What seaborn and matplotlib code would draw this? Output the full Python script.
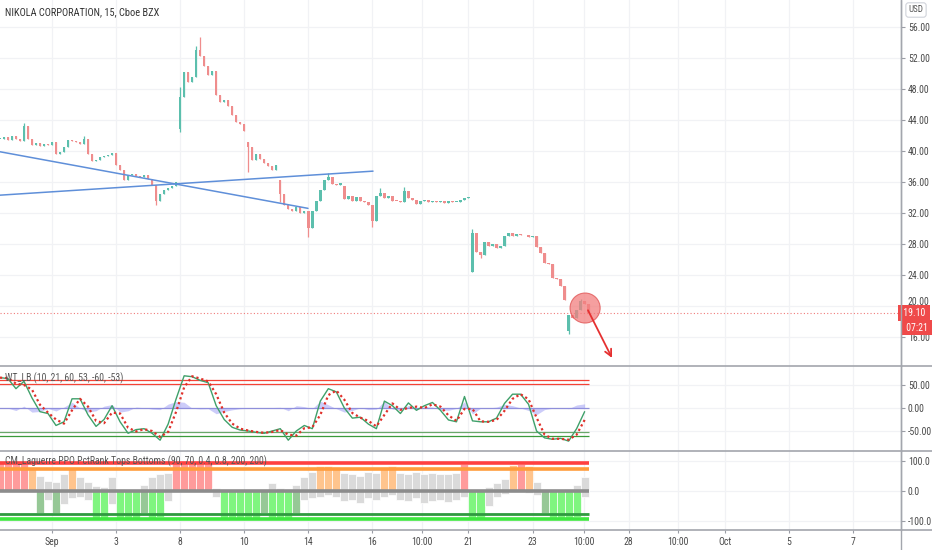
import numpy as np
import pandas as pd
import matplotlib
matplotlib.use("Agg")
import matplotlib.pyplot as plt
import matplotlib.transforms as mtransforms
from matplotlib.lines import Line2D
from matplotlib.patches import Ellipse
from matplotlib import font_manager
import seaborn as sns

# ---------------- data ----------------
title = "NIKOLA CORPORATION, 15, Cboe BZX"
wt_label = "WT_LB (10, 21, 60, 53, -60, -53)"
lb_label = "CM_Laguerre PPO PctRank Tops Bottoms (90, 70, 0.4, 0.8, 200, 200)"

date_tick_pos = [0, 2, 4, 6, 8, 10, 11.55, 13, 15, 16.6, 18, 19.55, 21, 23, 25]
date_tick_lbl = ["Sep", "3", "8", "10", "14", "16", "10:00", "21", "23", "10:00",
                 "28", "10:00", "Oct", "5", "7"]
price_ticks = [16, 20, 24, 28, 32, 36, 40, 44, 48, 52, 56]
wt_ticks = [50, 0, -50]
lb_ticks = [100, 0, -100]

candle_start = -1.625          # day index of first candle
candle_step = 0.125            # day fraction per candle
closes = [41.6, 41.8, 41.4, 41.9, 41.6, 41.3, 43.2, 41.5, 40.8, 41.0,
          40.7, 40.9, 40.8, 41.1, 39.6, 39.9, 40.5, 41.4, 41.3, 41.1,
          40.9, 41.6, 39.6, 38.7, 38.8, 39.2, 39.3, 39.5, 39.7, 38.2,
          37.5, 36.2, 36.9, 37.0, 36.8, 36.7, 36.9, 36.4, 35.6, 33.6,
          34.5, 35.0, 35.2, 35.5, 36.0, 47.0, 50.2, 48.9, 49.5, 53.0,
          52.2, 51.0, 49.8, 50.3, 47.2, 46.3, 46.6, 45.8, 44.6, 43.8,
          43.5, 42.6, 40.5, 38.8, 39.6, 39.0, 38.5, 38.0, 37.6, 38.2,
          34.5, 33.0, 32.5, 32.2, 32.8, 32.0, 32.3, 30.0, 32.2, 33.6,
          35.0, 36.2, 36.6, 35.8, 35.6, 35.9, 33.8, 34.2, 33.6, 34.0,
          33.5, 33.4, 33.0, 31.0, 34.2, 34.6, 33.9, 34.2, 33.6, 33.5,
          33.4, 34.8, 33.9, 33.7, 33.2, 33.6, 33.7, 33.4, 33.6, 33.4,
          33.5, 33.3, 33.6, 33.4, 33.4, 33.7, 33.9, 34.1, 29.4, 27.0,
          26.6, 28.3, 27.8, 28.0, 27.5, 27.8, 29.0, 29.4, 29.0, 29.3,
          29.1, 29.2, 28.9, 29.0, 27.6, 26.9, 25.6, 25.4, 23.6, 23.5,
          22.6, 20.8, 18.9, 18.5, 19.5, 20.6, 20.2, 19.1]
open_overrides = {0: 41.5, 45: 42.8, 62: 41.2, 70: 36.3, 86: 35.5, 118: 24.4, 142: 16.8}
high_overrides = {6: 43.6, 21: 41.9, 45: 48.3, 49: 53.6, 50: 54.7, 82: 37.2,
                  95: 35.2, 101: 35.3, 118: 29.9, 145: 20.9}
low_overrides = {39: 33.0, 45: 42.5, 62: 37.3, 70: 33.4, 77: 28.9, 93: 30.2,
                 120: 26.2, 142: 16.4}
last_price = 19.10
last_price_txt = "19.10"
countdown_txt = "07:21"

trend_a_x = [-1.623, 7.99]
trend_a_y = [39.9, 32.6]
trend_b_x = [-1.623, 10.02]
trend_b_y = [34.3, 37.4]
circle_center = (16.64, 19.74)
circle_size = (0.94, 3.87)
arrow_from = (16.73, 19.45)
arrow_to = (17.48, 13.3)

osc_start = -1.625
osc_step = 0.25
wt1 = [66, 64, 42, 58, 22, -8, -12, -38, -30, 20,
       20, -15, -40, -25, 5, -30, -55, -47, -45, -55,
       -70, -35, 20, 70, 68, 60, 55, 5, -25, -42,
       -48, -50, -53, -55, -50, -45, -70, -50, -38, -45,
       15, 42, 35, 0, -22, -20, -35, -45, 15, 5,
       -12, 11, -5, 5, 12, -5, -26, -30, 25, -28,
       -30, -30, -22, 10, 30, 30, 8, -50, -65, -68,
       -66, -72, -45, -8]
wt2 = [66, 65, 53, 50, 40, 7, -10, -25, -34, -5,
       20, 3, -28, -33, -10, -12, -43, -51, -46, -50,
       -63, -52, -8, 45, 69, 64, 58, 30, -10, -34,
       -45, -49, -52, -54, -52, -48, -58, -60, -44, -42,
       -15, 28, 38, 18, -11, -21, -28, -40, -15, 10,
       -4, 0, 3, 0, 8, 3, -16, -28, -2, -2,
       -29, -30, -26, -6, 20, 30, 19, -21, -58, -67,
       -67, -69, -58, -26]
wt_levels_ob = [60, 53]
wt_levels_os = [-60, -53]

lb_top = [98, 98, 97, 96, 78, 50, 32, 30, 55, 78,
          45, 30, 15, 12, 48, 8, 2, 0, 20, 45,
          55, 60, 96, 99, 99, 97, 95, 10, 0, 0,
          0, 0, 0, 5, 25, 10, 5, 20, 45, 62,
          82, 84, 80, 60, 55, 50, 62, 60, 80, 82,
          60, 58, 62, 55, 60, 58, 55, 60, 90, 0,
          0, 12, 28, 40, 88, 90, 82, 30, 0, 0,
          0, 5, 20, 45]
lb_bot = [0, 0, 0, 0, -5, -73, -30, -72, -45, -25,
          -20, -30, -90, -90, -45, -90, -92, -90, -74, -90,
          -88, -35, -5, 0, 0, 0, 0, -20, -90, -92,
          -90, -91, -90, -75, -90, -91, -90, -74, -30, -25,
          -20, -15, -20, -35, -30, -40, -25, -30, -20, -15,
          -30, -35, -25, -40, -35, -30, -38, -30, -20, -90,
          -92, -50, -20, -10, -5, -5, -8, -15, -74, -90,
          -91, -90, -88, -20]
lb_levels = [93, 73, 0, -77, -93]

# ---------------- style ----------------
sns.set_theme(style="white")
avail = {f.name for f in font_manager.fontManager.ttflist}
fams = [f for f in ["Liberation Sans Narrow", "Roboto Condensed", "Liberation Sans", "DejaVu Sans"] if f in avail]
plt.rcParams["font.family"] = fams or ["DejaVu Sans"]

W, H = 932, 550
AXR = 901
TXT = "#4a4a4a"
GRID = "#f1f2f5"
SEP = "#a3a6ad"

fig = plt.figure(figsize=(W / 100, H / 100), dpi=100)
fig.patch.set_facecolor("white")


def rect(top, bottom):
    return [0, (H - bottom) / H, AXR / W, (bottom - top) / H]


ax = fig.add_axes(rect(0, 366))
ax_wt = fig.add_axes(rect(366, 451), sharex=ax)
ax_lb = fig.add_axes(rect(451, 530), sharex=ax)

for a in (ax, ax_wt, ax_lb):
    a.set_facecolor("white")
    for s in ("top", "left", "bottom"):
        a.spines[s].set_visible(False)
    a.spines["right"].set_color(SEP)
    a.spines["right"].set_linewidth(1.0)
    a.yaxis.tick_right()
    a.tick_params(axis="y", which="both", right=True, length=3, width=0.8,
                  color="#9a9da5", labelsize=7, labelcolor=TXT, pad=2)
    a.set_xticks(date_tick_pos)
    for xp in date_tick_pos:
        a.axvline(xp, color=GRID, lw=0.9, zorder=0)
    a.set_xlabel("")
    a.set_ylabel("")

ax.set_xlim(-1.623, 26.50)

# ---------- main price panel ----------
ax.set_ylim(12.26, 59.48)
ax.set_yticks(price_ticks)
ax.set_yticklabels([f"{v:.2f}" for v in price_ticks])
for v in price_ticks:
    ax.axhline(v, color=GRID, lw=0.9, zorder=0)
ax.tick_params(axis="x", bottom=False, labelbottom=False)
# the tick label right above the last-price tag is nudged up so the tag does not hide it
for lbl, v in zip(ax.get_yticklabels(), price_ticks):
    if abs(v - last_price) < 1.5:
        lbl.set_transform(lbl.get_transform() +
                          mtransforms.ScaledTranslation(0, 5 / 100, fig.dpi_scale_trans))

n = len(closes)
tc = candle_start + np.arange(n) * candle_step
c = np.array(closes, dtype=float)
o = np.concatenate([[c[0]], c[:-1]])
for k, v in open_overrides.items():
    o[k] = v
hi = np.maximum(o, c)
lo = np.minimum(o, c)
for k, v in high_overrides.items():
    hi[k] = v
for k, v in low_overrides.items():
    lo[k] = v
up = c >= o
cols = np.where(up, "#5cbfad", "#ef8d8d")
ax.vlines(tc, lo, hi, colors=cols, lw=0.9, zorder=2)
ax.bar(tc, np.maximum(np.abs(c - o), 0.12), bottom=np.minimum(o, c), width=0.075,
       color=cols, linewidth=0, zorder=3)

trend = pd.DataFrame({"x": trend_a_x + trend_b_x, "y": trend_a_y + trend_b_y,
                      "line": ["a", "a", "b", "b"]})
sns.lineplot(data=trend, x="x", y="y", units="line", estimator=None, ax=ax,
             color="#5f8fd9", lw=1.1, zorder=4, legend=False)
ax.set_xlabel("")
ax.set_ylabel("")

ax.axhline(last_price, color="#f07a7a", lw=0.8, ls=(0, (1, 2)), zorder=1)
ax.add_patch(Ellipse(circle_center, circle_size[0], circle_size[1], facecolor="#f27f7f",
                     alpha=0.75, edgecolor="#e05050", lw=0.8, zorder=5))
ax.annotate("", xy=arrow_to, xytext=arrow_from,
            arrowprops=dict(arrowstyle="->", color="#e53030", lw=1.3, mutation_scale=12,
                            shrinkA=0, shrinkB=0), zorder=6)

blend = mtransforms.blended_transform_factory(ax.transAxes, ax.transData)
ax.text(1.0, last_price, " " + last_price_txt + " ", transform=blend, ha="left", va="center",
        fontsize=7, color="white", clip_on=False, zorder=10,
        bbox=dict(boxstyle="square,pad=0.28", fc="#ef4a4a", ec="none"))
ax.annotate(" " + countdown_txt + " ", xy=(1.0, last_price), xycoords=blend,
            xytext=(2.5, -10.5), textcoords="offset points", ha="left", va="center",
            fontsize=7, color="white", annotation_clip=False, zorder=10,
            bbox=dict(boxstyle="square,pad=0.28", fc="#ef4a4a", ec="none"))

# ---------- WT panel ----------
ax_wt.set_ylim(-93.5, 91.3)
ax_wt.set_yticks(wt_ticks)
ax_wt.set_yticklabels([f"{v:.2f}" for v in wt_ticks])
for v in wt_ticks:
    ax_wt.axhline(v, color=GRID, lw=0.9, zorder=0)
ax_wt.tick_params(axis="x", bottom=False, labelbottom=False)
to = osc_start + np.arange(len(wt1)) * osc_step
x_end = to[-1] + osc_step * 0.6
x_beg = to[0] - 0.1
for v in wt_levels_ob:
    ax_wt.hlines(v, x_beg, x_end, color="#f44336", lw=0.9, zorder=1)
ax_wt.hlines(wt_levels_os[0], x_beg, x_end, color="#3a9a3a", lw=0.9, zorder=1)
ax_wt.hlines(wt_levels_os[1], x_beg, x_end, color="#6aa86a", lw=0.9, zorder=1)
ax_wt.hlines(0, x_beg, x_end, color="#8f8fd8", lw=0.9, zorder=1)
diff = (np.array(wt1) - np.array(wt2)) * 0.5
ax_wt.fill_between(to, 0, diff, color="#8f8ff2", alpha=0.45, lw=0, zorder=2)
wt_df = pd.DataFrame({"t": to, "wt1": wt1, "wt2": wt2})
sns.lineplot(data=wt_df, x="t", y="wt1", ax=ax_wt, color="#3fa06a", lw=1.0, zorder=3)
sns.lineplot(data=wt_df, x="t", y="wt2", ax=ax_wt, color="#e0302a", lw=1.6,
             ls=(0, (1, 1.3)), zorder=4)
ax_wt.set_xlabel("")
ax_wt.set_ylabel("")

# ---------- LB panel ----------
ax_lb.set_ylim(-130, 133.3)
ax_lb.set_yticks(lb_ticks)
ax_lb.set_yticklabels([f"{v:.1f}" for v in lb_ticks])
for v in lb_ticks:
    ax_lb.axhline(v, color=GRID, lw=0.9, zorder=0)
top = np.array(lb_top, dtype=float)
bot = np.array(lb_bot, dtype=float)
top_cols = np.where(top >= 90, "#ff9b9b", np.where(top >= 70, "#ffc48d", "#dadada"))
bot_cols = np.where(bot <= -85, "#80f580", np.where(bot <= -70, "#96c896", "#dadada"))
ax_lb.bar(to, top, width=osc_step, color=top_cols, edgecolor="white", lw=0.5, zorder=2)
ax_lb.bar(to, bot, width=osc_step, color=bot_cols, edgecolor="white", lw=0.5, zorder=2)
lvl_cols = ["#ff4040", "#ff9c3c", "#8c8c8c", "#2f9a3f", "#3fe83f"]
lvl_lw = [2.6, 2.6, 2.6, 2.0, 2.6]
for v, cc, lw in zip(lb_levels, lvl_cols, lvl_lw):
    ax_lb.hlines(v, x_beg, x_end, color=cc, lw=lw, zorder=3)
ax_lb.set_xticks(date_tick_pos)
ax_lb.set_xticklabels(date_tick_lbl)
ax_lb.tick_params(axis="x", bottom=True, labelbottom=True, length=2, width=0.8,
                  color="#9a9da5", labelsize=7, labelcolor=TXT, pad=3)

# ---------- chrome ----------
for yy in (366, 451, 530):
    fig.add_artist(Line2D([0, 1], [1 - yy / H, 1 - yy / H], color=SEP, lw=1.2,
                          transform=fig.transFigure))
fig.add_artist(Line2D([AXR / W, AXR / W], [0, 1], color=SEP, lw=1.0,
                      transform=fig.transFigure))

fig.text(5 / W, 1 - 12 / H, title, fontsize=7.5, color="#333333", ha="left", va="center")
fig.text(5 / W, 1 - 378 / H, wt_label, fontsize=7, color="#555555", ha="left", va="center")
fig.text(5 / W, 1 - 461 / H, lb_label, fontsize=7, color="#555555", ha="left", va="center",
         zorder=20)
fig.text(916 / W, 1 - 10 / H, "USD", fontsize=6.5, color="#555555", ha="center", va="center",
         bbox=dict(boxstyle="round,pad=0.3,rounding_size=0.3", fc="white", ec="#d0d3da", lw=0.8))

fig.savefig("out.png", dpi=100, facecolor="white")
